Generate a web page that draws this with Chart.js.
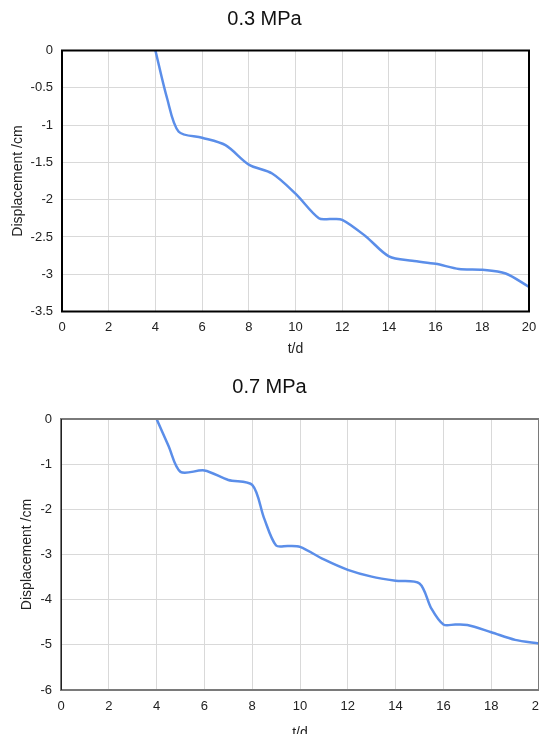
<!DOCTYPE html>
<html>
<head>
<meta charset="utf-8">
<script src="https://cdn.jsdelivr.net/npm/chart.js@4.4.1/dist/chart.umd.min.js"></script>
<style>
  html, body { margin: 0; padding: 0; background: #fff; overflow: hidden; width: 539px; height: 734px; }
  #box1 { position: absolute; left: 0; top: 0; width: 539px; height: 361px; }
  #box2 { position: absolute; left: 0; top: 368px; width: 553px; height: 380px; }
</style>
</head>
<body>
<div id="box1"><canvas id="c1"></canvas></div>
<div id="box2"><canvas id="c2"></canvas></div>
<script>
// data
var days03 = [4, 4.5, 5, 6, 7, 8, 9, 10, 11, 11.5, 12, 13, 14, 15, 16, 17, 18, 19, 20];
var disp03 = [0, -0.64, -1.09, -1.17, -1.27, -1.53, -1.65, -1.92, -2.25, -2.26, -2.27, -2.49, -2.76, -2.82, -2.86, -2.93, -2.94, -2.99, -3.17];

var days07 = [4, 4.5, 5, 6, 7, 8, 8.5, 9, 9.5, 10, 11, 12, 13, 14, 15, 15.5, 16, 16.5, 17, 18, 19, 20];
var disp07 = [0, -0.6, -1.17, -1.14, -1.35, -1.46, -2.2, -2.8, -2.81, -2.83, -3.11, -3.34, -3.49, -3.58, -3.64, -4.2, -4.55, -4.55, -4.56, -4.72, -4.89, -4.97];

var xTicks = [0, 2, 4, 6, 8, 10, 12, 14, 16, 18, 20];
var yTicks03 = [0, -0.5, -1, -1.5, -2, -2.5, -3, -3.5];
var yTicks07 = [0, -1, -2, -3, -4, -5, -6];

var FONT = "'Liberation Sans', Arial, sans-serif";

// box round the plot area
var framePlugin = {
  id: 'frame',
  afterDraw: function(chart, args, opts) {
    var a = chart.chartArea, ctx = chart.ctx;
    ctx.save();
    ctx.strokeStyle = opts.color;
    ctx.lineWidth = opts.width;
    ctx.strokeRect(a.left, a.top, a.right - a.left, a.bottom - a.top);
    if (opts.leftColor) {
      ctx.strokeStyle = opts.leftColor;
      ctx.lineWidth = 1;
      ctx.beginPath();
      ctx.moveTo(a.left + 0.5, a.top);
      ctx.lineTo(a.left + 0.5, a.bottom);
      ctx.stroke();
    }
    ctx.restore();
  }
};

function pts(xs, ys) {
  var out = [];
  for (var i = 0; i < xs.length; i++) out.push({x: xs[i], y: ys[i]});
  return out;
}

function fixed(list) {
  return function(s) { s.ticks = list.map(function(v) { return {value: v}; }); };
}

function makeChart(id, title, xs, ys, yTicks, o) {
  return new Chart(document.getElementById(id), {
    type: 'line',
    data: {
      datasets: [{
        data: pts(xs, ys),
        borderColor: '#5b8ee9',
        borderWidth: 2.5,
        pointRadius: 0,
        fill: false,
        tension: 0.3
      }]
    },
    options: {
      responsive: true,
      maintainAspectRatio: false,
      animation: false,
      layout: { padding: { left: 0, right: o.padRight, top: 0, bottom: 0 } },
      plugins: {
        legend: { display: false },
        tooltip: { enabled: false },
        title: {
          display: true,
          text: title,
          color: '#111',
          font: { family: FONT, size: 20, weight: 'normal' },
          padding: { top: o.titleTop, bottom: o.titleBottom }
        },
        frame: o.frame
      },
      scales: {
        x: {
          type: 'linear',
          min: 0, max: 20,
          afterBuildTicks: fixed(xTicks),
          afterFit: function(s) { s.height = o.xHeight; s.paddingLeft = 0; s.paddingRight = 0; },
          grid: { color: '#d9d9d9', drawTicks: false },
          border: { display: false },
          ticks: { color: '#222', padding: o.xTickPad, font: { family: FONT, size: 13 },
                   callback: function(v) { return String(v); } },
          title: {
            display: true, text: 't/d', color: '#222',
            font: { family: FONT, size: 14 },
            padding: { top: 0, bottom: o.xTitleBottom }
          }
        },
        y: {
          min: yTicks[yTicks.length - 1], max: 0,
          afterBuildTicks: fixed(yTicks),
          afterFit: function(s) { s.width = o.yWidth; },
          grid: { color: '#d9d9d9', drawTicks: false },
          border: { display: false },
          ticks: { color: '#222', padding: 9, font: { family: FONT, size: 13 },
                   callback: function(v) { return String(v); } },
          title: {
            display: true, text: 'Displacement /cm', color: '#222',
            font: { family: FONT, size: 14 },
            padding: { top: o.yTitleTop, bottom: 0 }
          }
        }
      }
    },
    plugins: [framePlugin]
  });
}

makeChart('c1', '0.3 MPa', days03, disp03, yTicks03, {
  padRight: 10, titleTop: 7, titleBottom: 19.5,
  xHeight: 49.5, xTickPad: 8, xTitleBottom: 3.6,
  yWidth: 62, yTitleTop: 9.4,
  frame: { color: '#000', width: 2 }
});

makeChart('c2', '0.7 MPa', days07, disp07, yTicks07, {
  padRight: 14, titleTop: 7.3, titleBottom: 19.7,
  xHeight: 58, xTickPad: 9, xTitleBottom: 6.6,
  yWidth: 61, yTitleTop: 18.8,
  frame: { color: '#7a7a7a', width: 2, leftColor: '#222' }
});
</script>
</body>
</html>
